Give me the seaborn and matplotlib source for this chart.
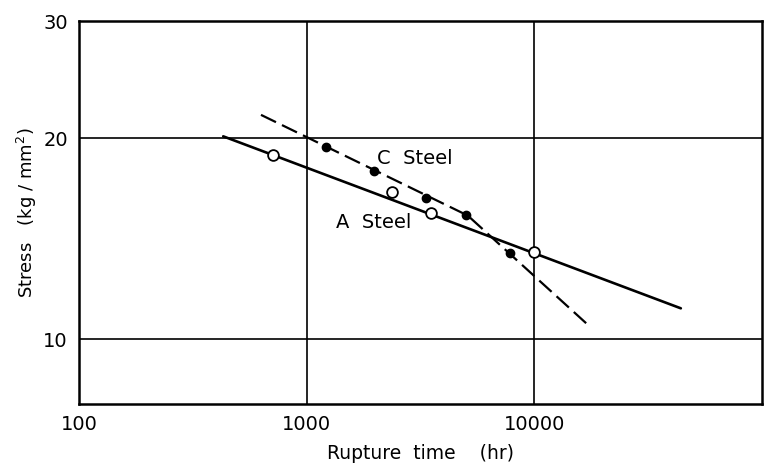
import matplotlib
matplotlib.use("Agg")
import matplotlib.pyplot as plt
import seaborn as sns

# A Steel (open circles)
a_time = [713, 2370, 3510, 10000]
a_stress = [18.9, 16.6, 15.45, 13.5]
a_fit_time = [430, 44000]
a_fit_stress = [20.15, 11.13]

# C Steel (filled circles)
c_time = [1220, 1975, 3330, 4990, 7780]
c_stress = [19.4, 17.85, 16.3, 15.37, 13.45]
c_fit_time = [630, 5100, 16900]
c_fit_stress = [21.7, 15.33, 10.57]

x_ticks = [100, 1000, 10000]
y_ticks = [10, 20, 30]

sns.set_style("white")
plt.rcParams["font.family"] = ["DejaVu Sans"]
plt.rcParams["text.color"] = "black"
plt.rcParams["axes.labelcolor"] = "black"
plt.rcParams["xtick.color"] = "black"
plt.rcParams["ytick.color"] = "black"

fig = plt.figure(figsize=(7.67, 4.70), dpi=100)
ax = fig.add_axes([0.103, 0.1404, 0.8905, 0.8149])

sns.lineplot(x=a_fit_time, y=a_fit_stress, ax=ax, color="black", linewidth=1.9)
sns.lineplot(x=c_fit_time, y=c_fit_stress, ax=ax, color="black", linewidth=1.6,
             linestyle=(0, (7.5, 3)))
sns.scatterplot(x=c_time, y=c_stress, ax=ax, color="black", s=36,
                edgecolor="black", linewidth=1, zorder=5)
sns.scatterplot(x=a_time, y=a_stress, ax=ax, color="white", s=60,
                edgecolor="black", linewidth=1.3, zorder=5)

ax.set_xscale("log")
ax.set_yscale("log")
ax.set_xlim(100, 100000)
ax.set_ylim(8, 30)
ax.set_xticks(x_ticks)
ax.set_xticklabels([str(t) for t in x_ticks])
ax.set_yticks(y_ticks)
ax.set_yticklabels([str(t) for t in y_ticks])
ax.minorticks_off()
ax.tick_params(length=0, labelsize=14, pad=8)

for v in [1000, 10000]:
    ax.axvline(v, color="black", linewidth=1.2, zorder=1)
for v in [10, 20]:
    ax.axhline(v, color="black", linewidth=1.2, zorder=1)

for s in ax.spines.values():
    s.set_color("black")
    s.set_linewidth(1.8)

ax.text(2030, 18.66, "C  Steel", fontsize=14, ha="left", va="center")
ax.text(1345, 14.95, "A  Steel", fontsize=14, ha="left", va="center")

ax.set_xlabel("Rupture  time    (hr)", fontsize=13.5, labelpad=7)
ax.set_ylabel("Stress   (kg / mm$^2$)", fontsize=13, labelpad=3)

fig.savefig("out.png", dpi=100)
